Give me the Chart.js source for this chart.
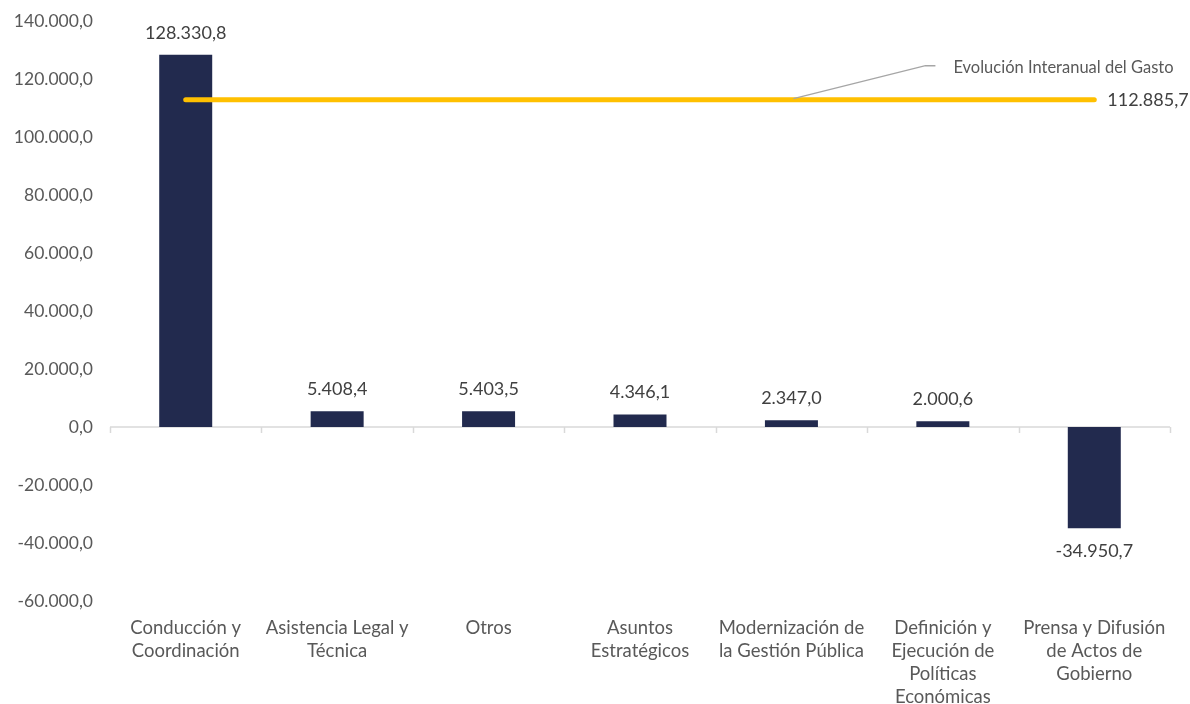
<!DOCTYPE html>
<html>
<head>
<meta charset="utf-8">
<script src="https://cdn.jsdelivr.net/npm/chart.js@4/dist/chart.umd.min.js"></script>
<style>
  html, body { margin: 0; padding: 0; background: #ffffff; }
  #wrap { width: 1190px; height: 704px; }
</style>
</head>
<body>
<div id="wrap"><canvas id="c" width="1190" height="704"></canvas></div>
<script>
// Programas y su variación
const categories = [
  ['Conducción y', 'Coordinación'],
  ['Asistencia Legal y', 'Técnica'],
  ['Otros'],
  ['Asuntos', 'Estratégicos'],
  ['Modernización de', 'la Gestión Pública'],
  ['Definición y', 'Ejecución de', 'Políticas', 'Económicas'],
  ['Prensa y Difusión', 'de Actos de', 'Gobierno']
];
const variacion = [128330.8, 5408.4, 5403.5, 4346.1, 2347.0, 2000.6, -34950.7];
const evolucionTotal = 112885.7;
const evolucionLabel = 'Evolución Interanual del Gasto';
const yMin = -60000, yMax = 140000, yStep = 20000;

const FONT = 'Lato, "Open Sans", sans-serif';
const TEXT = '#595959';

function fmt(v) {
  const neg = v < 0;
  const a = Math.abs(v);
  const parts = a.toFixed(1).split('.');
  const ent = parts[0].replace(/\B(?=(\d{3})+(?!\d))/g, '.');
  return (neg ? '-' : '') + ent + ',' + parts[1];
}

// Línea de cero con marcas entre categorías
const zeroAxis = {
  id: 'zeroAxis',
  beforeDatasetsDraw(chart) {
    const { ctx, chartArea, scales: { y } } = chart;
    const y0 = y.getPixelForValue(0);
    const n = categories.length;
    const step = (chartArea.right - chartArea.left) / n;
    ctx.save();
    ctx.strokeStyle = '#d9d9d9';
    ctx.lineWidth = 1.5;
    ctx.beginPath();
    ctx.moveTo(chartArea.left, y0);
    ctx.lineTo(chartArea.right, y0);
    for (let i = 0; i <= n; i++) {
      const px = Math.round(chartArea.left + i * step) + 0.5;
      ctx.moveTo(px, y0);
      ctx.lineTo(px, y0 + 6);
    }
    ctx.stroke();
    ctx.restore();
  }
};

// Etiquetas de valor y anotación de la línea
const labels = {
  id: 'labels',
  afterDatasetsDraw(chart) {
    const { ctx } = chart;
    ctx.save();
    ctx.fillStyle = '#404040';
    ctx.font = '18px ' + FONT;
    ctx.textAlign = 'center';
    ctx.textBaseline = 'middle';
    const bars = chart.getDatasetMeta(0).data;
    bars.forEach((b, i) => {
      const v = variacion[i];
      const py = v >= 0 ? b.y - 22 : b.y + 23;
      ctx.fillText(fmt(v), b.x, py);
    });
    // valor de la línea
    const lineMeta = chart.getDatasetMeta(1).data;
    const last = lineMeta[lineMeta.length - 1];
    ctx.textAlign = 'left';
    ctx.fillText(fmt(evolucionTotal), last.x + 13, last.y + 1);
    // guía de la anotación
    const p = lineMeta[4];
    ctx.strokeStyle = '#a6a6a6';
    ctx.lineWidth = 1.5;
    ctx.beginPath();
    ctx.moveTo(p.x + 2, p.y - 1);
    ctx.lineTo(p.x + 134, p.y - 34);
    ctx.lineTo(p.x + 144, p.y - 34);
    ctx.stroke();
    ctx.fillStyle = TEXT;
    ctx.font = '16.5px ' + FONT;
    ctx.fillText(evolucionLabel, p.x + 162, p.y - 32);
    ctx.restore();
  }
};

new Chart(document.getElementById('c'), {
  data: {
    labels: categories,
    datasets: [
      {
        type: 'bar',
        data: variacion,
        backgroundColor: '#222a4e',
        borderColor: '#222a4e',
        barPercentage: 0.35,
        categoryPercentage: 1.0,
        order: 2
      },
      {
        type: 'line',
        data: categories.map(() => evolucionTotal),
        borderColor: '#ffc000',
        borderWidth: 5,
        borderCapStyle: 'round',
        pointRadius: 0,
        fill: false,
        order: 1
      }
    ]
  },
  options: {
    responsive: false,
    animation: false,
    layout: { padding: { top: 21, right: 20, bottom: 0, left: 0 } },
    plugins: { legend: { display: false }, tooltip: { enabled: false } },
    scales: {
      x: {
        grid: { display: false, drawTicks: false },
        border: { display: false },
        ticks: {
          color: TEXT,
          font: { family: FONT, size: 18.5, lineHeight: 1.25 },
          padding: 15,
          maxRotation: 0,
          autoSkip: false
        },
        afterFit(s) { s.height = 103; s.paddingLeft = 0; s.paddingRight = 0; }
      },
      y: {
        min: yMin,
        max: yMax,
        grid: { display: false, drawTicks: false },
        border: { display: false },
        ticks: {
          stepSize: yStep,
          color: TEXT,
          font: { family: FONT, size: 17.5 },
          padding: 17,
          callback: v => fmt(v)
        },
        afterFit(s) { s.width = 110; s.paddingTop = 0; s.paddingBottom = 0; }
      }
    }
  },
  plugins: [zeroAxis, labels]
});
</script>
</body>
</html>
